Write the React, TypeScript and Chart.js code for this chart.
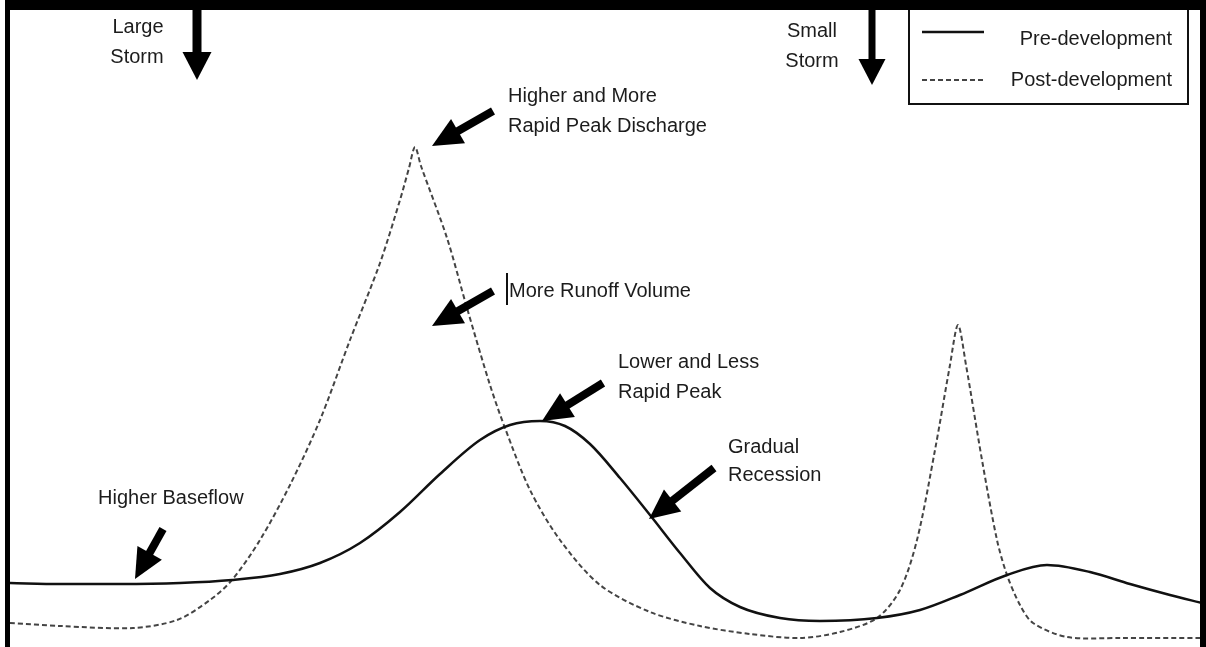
import React, { useEffect, useRef } from "react";
import { Chart, registerables } from "chart.js";

Chart.register(...registerables);

// ---- Data (time units vs. discharge units) ----
const preTime = [0, 50, 110, 170, 222, 270, 310, 350, 390, 430, 470, 500, 530, 555, 580, 610, 640, 670, 700, 730, 770, 810, 867, 910, 950, 997, 1037, 1080, 1120, 1160, 1192];
const preFlow = [64, 63, 63, 64, 67, 73, 84, 104, 135, 173, 207, 222, 226, 221, 203, 169, 132, 94, 59, 40, 29, 26, 29, 37, 52, 72, 82, 75, 63, 52, 44];

const postTime = [0, 50, 123, 167, 200, 222, 250, 280, 310, 340, 370, 390, 399, 405, 411, 437, 457, 480, 495, 520, 550, 590, 640, 690, 740, 790, 830, 867, 890, 907, 925, 940, 948, 956, 972, 987, 997, 1010, 1023, 1057, 1110, 1192];
const postFlow = [24, 21, 19, 27, 47, 67, 107, 162, 227, 307, 384, 447, 479, 500, 481, 409, 339, 262, 219, 157, 107, 62, 35, 21, 13, 9, 15, 29, 57, 107, 197, 282, 322, 282, 187, 107, 72, 42, 24, 10, 9, 9];

const seriesLabels = ["Pre-development", "Post-development"];

// ---- Annotation texts ----
const annotationTexts = [
  { text: "Large", x: 138, y: 33, align: "center" },
  { text: "Storm", x: 137, y: 63, align: "center" },
  { text: "Small", x: 812, y: 37, align: "center" },
  { text: "Storm", x: 812, y: 67, align: "center" },
  { text: "Higher and More", x: 508, y: 102, align: "left" },
  { text: "Rapid Peak Discharge", x: 508, y: 132, align: "left" },
  { text: "More Runoff Volume", x: 509, y: 297, align: "left" },
  { text: "Lower and Less", x: 618, y: 368, align: "left" },
  { text: "Rapid Peak", x: 618, y: 398, align: "left" },
  { text: "Gradual", x: 728, y: 453, align: "left" },
  { text: "Recession", x: 728, y: 481, align: "left" },
  { text: "Higher Baseflow", x: 98, y: 504, align: "left" },
];

// arrows: tail -> tip
const annotationArrows = [
  { x1: 197, y1: 8, x2: 197, y2: 80, head: 28, width: 29, shaft: 9 },
  { x1: 872, y1: 8, x2: 872, y2: 85, head: 26, width: 27, shaft: 7 },
  { x1: 493, y1: 111, x2: 432, y2: 146, head: 30, width: 28, shaft: 8 },
  { x1: 493, y1: 291, x2: 432, y2: 326, head: 30, width: 28, shaft: 8 },
  { x1: 603, y1: 383, x2: 542, y2: 421, head: 30, width: 28, shaft: 8 },
  { x1: 714, y1: 468, x2: 649, y2: 519, head: 30, width: 28, shaft: 8 },
  { x1: 163, y1: 529, x2: 135, y2: 579, head: 30, width: 28, shaft: 8 },
];

const FONT = '20px "Liberation Sans", Arial, sans-serif';

function drawArrow(ctx: CanvasRenderingContext2D, a: any) {
  const dx = a.x2 - a.x1;
  const dy = a.y2 - a.y1;
  const len = Math.hypot(dx, dy);
  const ux = dx / len;
  const uy = dy / len;
  const px = -uy;
  const py = ux;
  const bx = a.x2 - ux * a.head;
  const by = a.y2 - uy * a.head;
  ctx.beginPath();
  ctx.moveTo(a.x1 + px * a.shaft / 2, a.y1 + py * a.shaft / 2);
  ctx.lineTo(bx + px * a.shaft / 2 + ux, by + py * a.shaft / 2 + uy);
  ctx.lineTo(bx - px * a.shaft / 2 + ux, by - py * a.shaft / 2 + uy);
  ctx.lineTo(a.x1 - px * a.shaft / 2, a.y1 - py * a.shaft / 2);
  ctx.closePath();
  ctx.fill();
  ctx.beginPath();
  ctx.moveTo(a.x2, a.y2);
  ctx.lineTo(bx + px * a.width / 2, by + py * a.width / 2);
  ctx.lineTo(bx - px * a.width / 2, by - py * a.width / 2);
  ctx.closePath();
  ctx.fill();
}

const overlayPlugin = {
  id: "overlay",
  afterDraw(chart: any) {
    const ctx: CanvasRenderingContext2D = chart.ctx;
    const W = chart.width;
    const H = chart.height;
    ctx.save();
    // texts
    ctx.fillStyle = "#1c1c1c";
    ctx.font = FONT;
    ctx.textBaseline = "alphabetic";
    for (const t of annotationTexts) {
      ctx.textAlign = t.align as CanvasTextAlign;
      ctx.fillText(t.text, t.x, t.y);
    }
    // text cursor artifact
    ctx.fillStyle = "#111";
    ctx.fillRect(506, 273, 2, 32);
    // arrows
    ctx.fillStyle = "#000";
    for (const a of annotationArrows) drawArrow(ctx, a);

    // legend
    const ds = chart.data.datasets;
    ctx.strokeStyle = "#111";
    ctx.lineWidth = 2;
    ctx.strokeRect(909, 4, 279, 100);
    const rows = [40, 80];
    ds.forEach((d: any, i: number) => {
      ctx.beginPath();
      ctx.strokeStyle = d.borderColor;
      ctx.lineWidth = i === 0 ? 2.5 : 2;
      ctx.setLineDash(d.borderDash || []);
      ctx.moveTo(922, i === 0 ? 32 : 80);
      ctx.lineTo(984, i === 0 ? 32 : 80);
      ctx.stroke();
      ctx.setLineDash([]);
      ctx.fillStyle = "#1c1c1c";
      ctx.textAlign = "right";
      ctx.fillText(d.label, 1172, rows[i] + (i === 0 ? 5 : 6));
    });

    // frame
    ctx.fillStyle = "#000";
    ctx.fillRect(5, 0, W - 5, 10);
    ctx.fillRect(5, 0, 5, H);
    ctx.fillRect(1200, 0, W - 1200, H);
    ctx.restore();
  },
};

export default function App() {
  const ref = useRef<HTMLCanvasElement | null>(null);

  useEffect(() => {
    document.body.style.margin = "0";
    if (!ref.current) return;
    const chart = new Chart(ref.current, {
      type: "line",
      data: {
        datasets: [
          {
            label: seriesLabels[0],
            data: preTime.map((t, i) => ({ x: t, y: preFlow[i] })),
            borderColor: "#111111",
            borderWidth: 2.5,
            pointRadius: 0,
            cubicInterpolationMode: "monotone",
            fill: false,
          },
          {
            label: seriesLabels[1],
            data: postTime.map((t, i) => ({ x: t, y: postFlow[i] })),
            borderColor: "#444444",
            borderWidth: 2,
            borderDash: [5, 3],
            pointRadius: 0,
            tension: 0.3,
            fill: false,
          },
        ],
      },
      options: {
        responsive: false,
        animation: false,
        devicePixelRatio: 1,
        layout: { padding: { left: 10, right: 6, top: 10, bottom: 0 } },
        scales: {
          x: { type: "linear", min: 0, max: 1190, display: false },
          y: { type: "linear", min: 0, max: 637, display: false },
        },
        plugins: {
          legend: { display: false },
          tooltip: { enabled: false },
        },
      },
      plugins: [overlayPlugin],
    });
    return () => chart.destroy();
  }, []);

  return (
    <div style={{ position: "fixed", left: 0, top: 0, width: 1206, height: 647, background: "#fff" }}>
      <canvas ref={ref} width={1206} height={647} style={{ width: 1206, height: 647, display: "block" }} />
    </div>
  );
}
